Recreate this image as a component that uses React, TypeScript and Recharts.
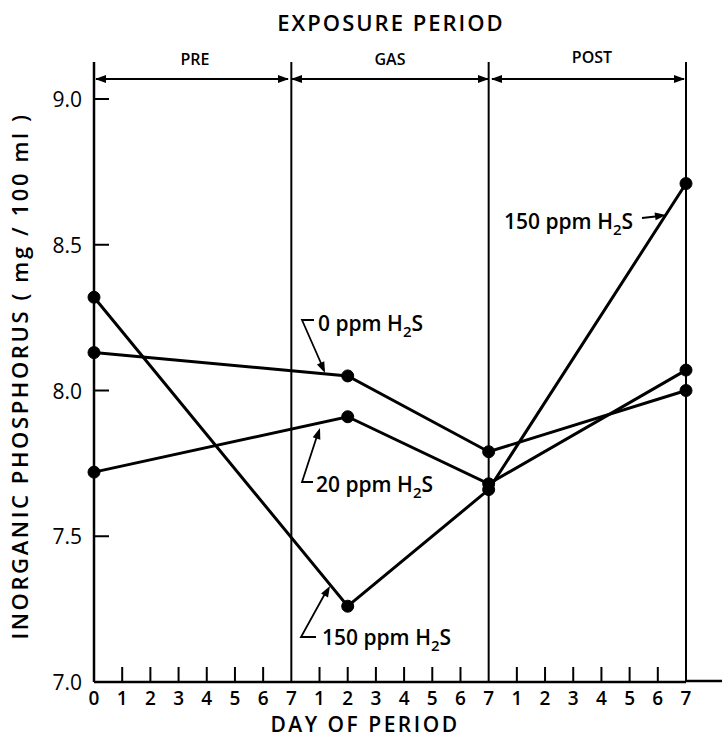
import React from 'react';
import { LineChart, Line, XAxis, YAxis, ReferenceLine } from 'recharts';

// x positions are day indexes running through the three periods (PRE 0-7, GAS 1-7, POST 1-7)
const dayLabels = ['0', '1', '2', '3', '4', '5', '6', '7', '1', '2', '3', '4', '5', '6', '7', '1', '2', '3', '4', '5', '6', '7'];
const dayTicks = dayLabels.map((_, i) => i);
const periodEnds = [7, 14, 21];
const yTicks = [7.0, 7.5, 8.0, 8.5, 9.0];

const sampleDays = [0, 9, 14, 21];
const ppm0 = [8.13, 8.05, 7.79, 8.0];
const ppm20 = [7.72, 7.91, 7.68, 8.07];
const ppm150 = [8.32, 7.26, 7.66, 8.71];

const data = sampleDays.map((day, i) => ({
  day,
  ppm0: ppm0[i],
  ppm20: ppm20[i],
  ppm150: ppm150[i],
}));

const FONT = '"Open Sans", "DejaVu Sans", sans-serif';

const XTick = (props: any) => {
  const { x, y, payload } = props;
  const v = payload.value as number;
  const inner = !periodEnds.includes(v) && v !== 0;
  return (
    <g>
      {inner && <line x1={x} y1={y} x2={x} y2={y - 15} stroke="#000" strokeWidth={2} />}
      <text x={x} y={y + 23} textAnchor="middle" fontFamily={FONT} fontWeight={600} fontSize={19} fill="#000">
        {dayLabels[v]}
      </text>
    </g>
  );
};

const YTick = (props: any) => {
  const { x, y, payload } = props;
  const v = payload.value as number;
  return (
    <g>
      {v !== 7 && <line x1={x} y1={y} x2={x + 15} y2={y} stroke="#000" strokeWidth={2} />}
      <text x={x - 12} y={y + 8} textAnchor="end" fontFamily={FONT} fontSize={21} fill="#000">
        {v.toFixed(1)}
      </text>
    </g>
  );
};

const head = (x1: number, y1: number, x2: number, y2: number, len = 11, half = 4) => {
  const dx = x2 - x1;
  const dy = y2 - y1;
  const d = Math.sqrt(dx * dx + dy * dy);
  const ux = dx / d;
  const uy = dy / d;
  const bx = x2 - ux * len;
  const by = y2 - uy * len;
  return `${x2},${y2} ${bx - uy * half},${by + ux * half} ${bx + uy * half},${by - ux * half}`;
};

const H2S = ({ x, y, prefix }: { x: number; y: number; prefix: string }) => (
  <text x={x} y={y} fontFamily={FONT} fontWeight={600} fontSize={21} fill="#000">
    {prefix} H
    <tspan fontSize={15} dy={6}>2</tspan>
    <tspan dy={-6}>S</tspan>
  </text>
);

const Overlay = () => {
  const bounds = [94, 290, 490, 686];
  const hy = 79;
  const labels = [
    { t: 'PRE', x: 195, y: 65 },
    { t: 'GAS', x: 390, y: 65 },
    { t: 'POST', x: 592, y: 63 },
  ];
  return (
    <svg width={725} height={742} style={{ position: 'absolute', left: 0, top: 0, pointerEvents: 'none' }}>
      <text x={391} y={31} textAnchor="middle" fontFamily={FONT} fontWeight={600} fontSize={22} letterSpacing={2} fill="#000">
        EXPOSURE  PERIOD
      </text>
      {labels.map((l) => (
        <text key={l.t} x={l.x} y={l.y} textAnchor="middle" fontFamily={FONT} fontWeight={600} fontSize={16} fill="#000">
          {l.t}
        </text>
      ))}
      {bounds.slice(0, 3).map((b, i) => {
        const e = bounds[i + 1];
        return (
          <g key={b}>
            <line x1={b + 2} y1={hy} x2={e - 2} y2={hy} stroke="#000" strokeWidth={2} />
            <polygon points={head(e, hy, b + 1, hy)} fill="#000" />
            <polygon points={head(b, hy, e - 1, hy)} fill="#000" />
          </g>
        );
      })}
      <line x1={686} y1={681} x2={722} y2={681} stroke="#000" strokeWidth={2.5} />
      <text
        transform="translate(28,376) rotate(-90)"
        textAnchor="middle"
        fontFamily={FONT}
        fontWeight={600}
        fontSize={22}
        letterSpacing={2.6}
        fill="#000"
      >
        INORGANIC PHOSPHORUS  ( mg / 100 ml )
      </text>
      <text x={365} y={732} textAnchor="middle" fontFamily={FONT} fontWeight={600} fontSize={21} letterSpacing={2.5} fill="#000">
        DAY  OF  PERIOD
      </text>

      {/* 0 ppm label */}
      <H2S x={318} y={331} prefix="0 ppm" />
      <polyline points="314,320 302,320 324,370" fill="none" stroke="#000" strokeWidth={1.8} />
      <polygon points={head(302, 320, 325, 373)} fill="#000" />

      {/* 20 ppm label */}
      <H2S x={316} y={492} prefix="20 ppm" />
      <polyline points="313,482 302,482 318,433" fill="none" stroke="#000" strokeWidth={1.8} />
      <polygon points={head(302, 482, 320, 428)} fill="#000" />

      {/* 150 ppm lower label */}
      <H2S x={322} y={645} prefix="150 ppm" />
      <polyline points="316,637 301,637 327,590" fill="none" stroke="#000" strokeWidth={1.8} />
      <polygon points={head(301, 637, 330, 586)} fill="#000" />

      {/* 150 ppm upper label */}
      <H2S x={504} y={229} prefix="150 ppm" />
      <line x1={642} y1={218} x2={660} y2={216} stroke="#000" strokeWidth={1.8} />
      <polygon points={head(642, 218, 666, 215)} fill="#000" />
    </svg>
  );
};

const App: React.FC = () => {
  const lineProps = {
    type: 'linear' as const,
    stroke: '#000',
    strokeWidth: 3,
    dot: { r: 6, fill: '#000', stroke: '#000', strokeWidth: 1 },
    isAnimationActive: false,
  };
  return (
    <div style={{ position: 'absolute', left: 0, top: 0, width: 725, height: 742, background: '#fff' }}>
      <LineChart width={725} height={742} data={data} margin={{ top: 62, right: 39, bottom: 0, left: 0 }}>
        <XAxis
          dataKey="day"
          type="number"
          domain={[0, 21]}
          ticks={dayTicks}
          interval={0}
          height={60}
          tickSize={0}
          tickMargin={0}
          tickLine={false}
          tick={<XTick />}
          axisLine={{ stroke: '#000', strokeWidth: 2.5 }}
        />
        <YAxis
          type="number"
          domain={[7, 9.127]}
          ticks={yTicks}
          interval={0}
          width={94}
          tickSize={0}
          tickMargin={0}
          tickLine={false}
          tick={<YTick />}
          axisLine={{ stroke: '#000', strokeWidth: 2.5 }}
          allowDataOverflow
        />
        {periodEnds.map((p) => (
          <ReferenceLine key={p} x={p} stroke="#000" strokeWidth={2} />
        ))}
        <Line dataKey="ppm0" {...lineProps} />
        <Line dataKey="ppm20" {...lineProps} />
        <Line dataKey="ppm150" {...lineProps} />
      </LineChart>
      <Overlay />
    </div>
  );
};

export default App;
